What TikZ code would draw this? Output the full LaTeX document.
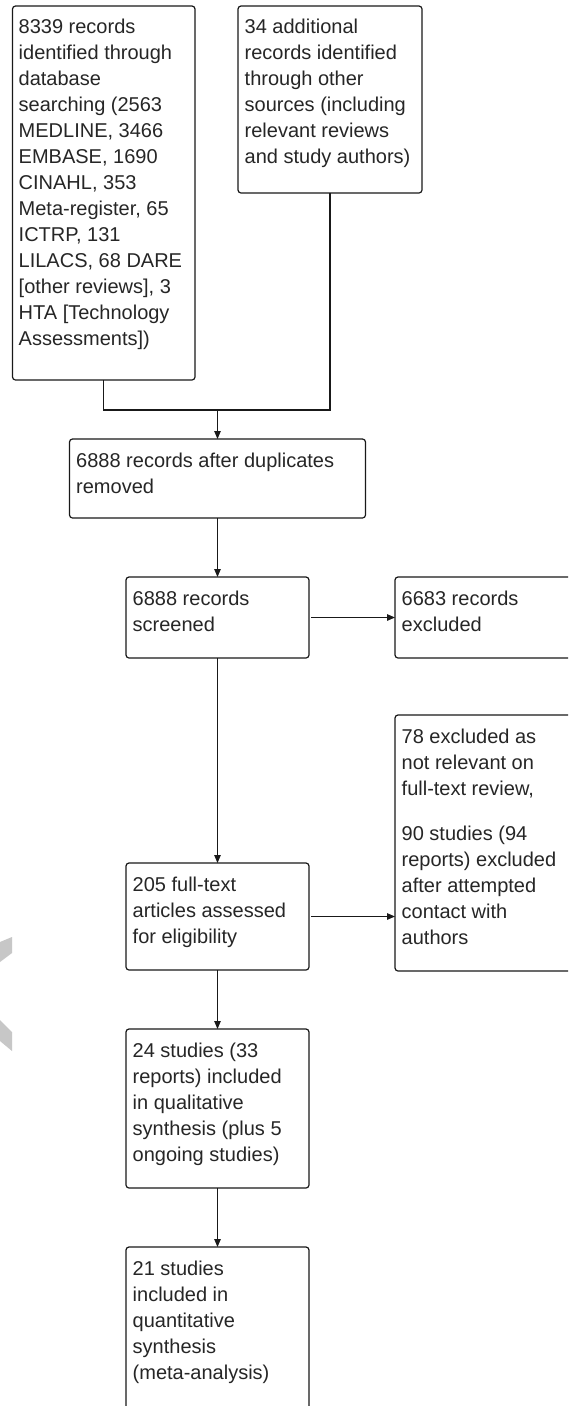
\documentclass[tikz,border=0pt]{standalone}
\usepackage{fontspec}
\setmainfont{Liberation Sans}
\usetikzlibrary{arrows.meta}
\begin{document}
\begin{tikzpicture}[x=1pt,y=-1pt,
  box/.style={draw=black!90, line width=1.2pt, rounded corners=3pt, anchor=north west, inner sep=0pt, outer sep=0pt},
  txt/.style={anchor=north west, inner sep=0pt, align=left, font=\fontsize{20}{26}\selectfont, text=black!85},
  conn/.style={draw=black!90, line width=1.2pt},
  arr/.style={conn, -{Triangle[length=8pt,width=6.5pt]}},
  wmark/.style={fill=black!22, draw=none}]
\useasboundingbox (0,0) rectangle (568,1406);
\clip (0,0) rectangle (568,1406);
\fill[white] (0,0) rectangle (568,1406);
% faint watermark fragments at the left edge
\fill[wmark] (0,942) -- (12,937) -- (12,953) -- (0,962) -- cycle;
\fill[wmark] (0,1020) -- (12,1032) -- (12,1051) -- (0,1041) -- cycle;
% boxes
\node[box, minimum width=182.5pt, minimum height=374pt] (b1) at (12.5,6) {};
\node[box, minimum width=184pt, minimum height=187pt] (b2) at (238,6) {};
\node[box, minimum width=296pt, minimum height=79pt] (b3) at (69.5,439) {};
\node[box, minimum width=183pt, minimum height=81pt] (b4) at (126,577) {};
\node[box, minimum width=190pt, minimum height=81pt] (b5) at (395,577) {};
\node[box, minimum width=183pt, minimum height=107pt] (b6) at (126,863) {};
\node[box, minimum width=190pt, minimum height=256pt] (b7) at (395,715) {};
\node[box, minimum width=183pt, minimum height=159pt] (b8) at (126,1029) {};
\node[box, minimum width=183pt, minimum height=170pt] (b9) at (126,1247) {};
% texts
\node[txt] (t1) at (18.5,13) {\rule{0pt}{20pt}8339 records\\identified through\\database\\searching (2563\\MEDLINE, 3466\\EMBASE, 1690\\CINAHL, 353\\Meta-register, 65\\ICTRP, 131\\LILACS, 68 DARE\\{[other reviews], 3}\\HTA [Technology\\Assessments])};
\node[txt] (t2) at (244.5,13) {\rule{0pt}{20pt}34 additional\\records identified\\through other\\sources (including\\relevant reviews\\and study authors)};
\node[txt] (t3) at (76,447) {\rule{0pt}{20pt}6888 records after duplicates\\removed};
\node[txt] (t4) at (132.5,585) {\rule{0pt}{20pt}6888 records\\screened};
\node[txt] (t5) at (401.5,585) {\rule{0pt}{20pt}6683 records\\excluded};
\node[txt] (t6) at (132.5,871) {\rule{0pt}{20pt}205 full-text\\articles assessed\\for eligibility};
\node[txt] (t7) at (401.5,723) {\rule{0pt}{20pt}78 excluded as\\not relevant on\\full-text review,\\[19pt]90 studies (94\\reports) excluded\\after attempted\\contact with\\authors};
\node[txt] (t8) at (132.5,1037) {\rule{0pt}{20pt}24 studies (33\\reports) included\\in qualitative\\synthesis (plus 5\\ongoing studies)};
\node[txt] (t9) at (132.5,1255) {\rule{0pt}{20pt}21 studies\\included in\\quantitative\\synthesis\\(meta-analysis)};
% connectors
\coordinate (j) at (217.5,410);
\draw[conn] (b1.south) |- (j);
\draw[conn] (b2.south) |- (j);
\draw[arr] (j) -- (b3.north);
\draw[arr] (b3.south) -- (b4.north);
\draw[arr] ([xshift=2pt]b4.east) -- (b5.west);
\draw[arr] (b4.south) -- (b6.north);
\draw[arr] ([xshift=2pt]b6.east) -- (b6.east -| b7.west);
\draw[arr] (b6.south) -- (b8.north);
\draw[arr] (b8.south) -- (b9.north);
\end{tikzpicture}
\end{document}
